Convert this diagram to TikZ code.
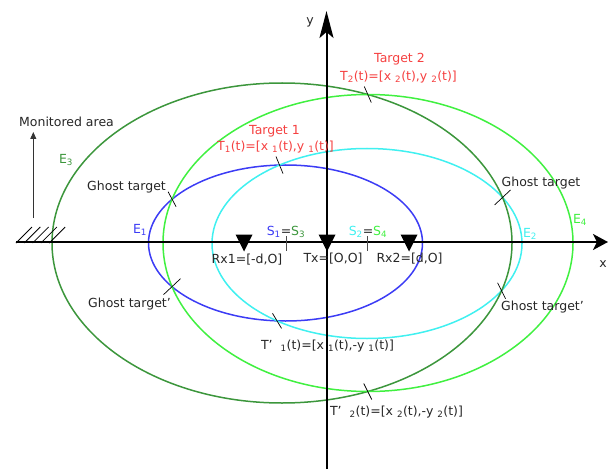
\documentclass[tikz,border=0pt]{standalone}
\usepackage{fontspec}
\setmainfont{DejaVu Sans}
\usetikzlibrary{arrows.meta,intersections,calc}

\definecolor{eblue}{RGB}{60,60,245}
\definecolor{ecyan}{RGB}{64,240,240}
\definecolor{edark}{RGB}{60,150,60}
\definecolor{elight}{RGB}{64,240,64}
\definecolor{tred}{RGB}{245,64,64}

\tikzset{
  lbl/.style={text=black!85, font=\fontsize{12.5}{14}\selectfont, inner sep=0pt},
  ell/.style={line width=1.5pt},
  crosstick/.style={black, line width=0.7pt},
  stick/.style={black!70, line width=0.8pt},
  axis/.style={black, line width=2pt},
}

\begin{document}
\begin{tikzpicture}[x=1pt,y=1pt]
    \useasboundingbox (0,0) rectangle (609,469);

    % ellipses
    \draw[ell,eblue,name path=E1](285.5,226) ellipse [x radius=137, y radius=78];
    \draw[ell,ecyan,name path=E2](367,225.5) ellipse [x radius=155, y radius=95];
    \draw[ell,edark,name path=E3](282,226) ellipse [x radius=230, y radius=160];
    \draw[ell,elight,name path=E4](368,226) ellipse [x radius=205, y radius=148.5];

    % axes
    \coordinate (xs) at (16,227);
    \coordinate (xe) at (608,227);
    \coordinate (ys) at (326.5,0);
    \coordinate (ye) at (326.5,458);
    \draw[axis,-{Stealth[length=15pt,width=16pt,inset=4pt]}](xs)--(xe);
    \draw[axis,-{Stealth[length=27pt,width=14pt,inset=6pt]}](ys)--(ye);
    \node[lbl] (xlab) at (603,205){x};
    \node[lbl] (ylab) at (310,447){y};

    % monitored area
    \foreach \i in {0,...,4}
        \draw[black,line width=0.8pt](16+8.3*\i,226)--++(16,16);
    \coordinate (monbot) at (33.3,251);
    \coordinate (montop) at (33.3,337);
    \draw[black!80,line width=0.8pt,-{Triangle[length=7pt,width=6pt]}](monbot)--(montop);
    \node[lbl] (mon) at (66.5,347){Monitored area};

    % transmitter and receivers
    \coordinate (rx1) at (244,227);
    \coordinate (tx) at (327,227);
    \coordinate (rx2) at (409,227);
    \foreach \r in {rx1,tx,rx2}
        \fill[black]($(\r)+(-8.5,7.5)$)--($(\r)+(8.5,7.5)$)--($(\r)+(0,-9.5)$)--cycle;
    \node[lbl] (rx1lab) at (247,209){Rx1=[-d,O]};
    \node[lbl] (txlab) at (333,210){Tx=[O,O]};
    \node[lbl] (rx2lab) at (409.5,210){Rx2=[d,O]};

    % S marks
    \coordinate (s13) at (286,227);
    \coordinate (s24) at (367.5,227);
    \draw[stick]($(s13)+(0,6)$)--($(s13)+(0,-9)$);
    \draw[stick]($(s24)+(0,6)$)--($(s24)+(0,-9)$);
    \node[lbl] (s13lab) at (286,237){{\color{eblue}S\textsubscript{1}}={\color{edark}S\textsubscript{3}}};
    \node[lbl] (s24lab) at (368,237){{\color{ecyan}S\textsubscript{2}}={\color{elight}S\textsubscript{4}}};

    % ellipse labels
    \node[lbl,text=edark] (e3lab) at (66,309){E\textsubscript{3}};
    \node[lbl,text=eblue] (e1lab) at (140,239){E\textsubscript{1}};
    \node[lbl,text=ecyan] (e2lab) at (530,235){E\textsubscript{2}};
    \node[lbl,text=elight] (e4lab) at (580,249){E\textsubscript{4}};

    % crossings
    \path[name intersections={of=E1 and E2, name=ta, sort by=E1}];
    \path[name intersections={of=E3 and E4, name=tb, sort by=E3}];
    \path[name intersections={of=E1 and E4, name=ga, sort by=E1}];
    \path[name intersections={of=E2 and E3, name=gb, sort by=E2}];
    \foreach \p/\dx/\dy in {ta-1/3.5/8.5,ta-2/4.5/7.5,tb-1/3.5/8,tb-2/4/8,
                            ga-1/4/7.5,ga-2/-8.5/8,gb-1/-8/7.5,gb-2/4/8}
        \draw[crosstick]($(\p)+(-\dx,\dy)$)--($(\p)+(\dx,-\dy)$);

    % targets
    \node[lbl,text=tred] (t2name) at (399.5,410){Target 2};
    \node[lbl,text=tred] (t2lab) at (398.5,392){T\textsubscript{2}(t)=[x \textsubscript{2}(t),y \textsubscript{2}(t)]};
    \node[lbl,text=tred] (t1name) at (274.5,338){Target 1};
    \node[lbl,text=tred] (t1lab) at (275.5,322){T\textsubscript{1}(t)=[x \textsubscript{1}(t),y \textsubscript{1}(t)]};
    \node[lbl] (t1mlab) at (327.5,123){T'\ \ \textsubscript{1}(t)=[x \textsubscript{1}(t),-y \textsubscript{1}(t)]};
    \node[lbl] (t2mlab) at (396.5,57){T'\ \ \textsubscript{2}(t)=[x \textsubscript{2}(t),-y \textsubscript{2}(t)]};

    % ghosts
    \node[lbl] (gul) at (126.5,282){Ghost target};
    \node[lbl] (gur) at (541,286){Ghost target};
    \node[lbl] (gll) at (129.5,165){Ghost target'};
    \node[lbl] (glr) at (542.5,162){Ghost target'};
\end{tikzpicture}
\end{document}
